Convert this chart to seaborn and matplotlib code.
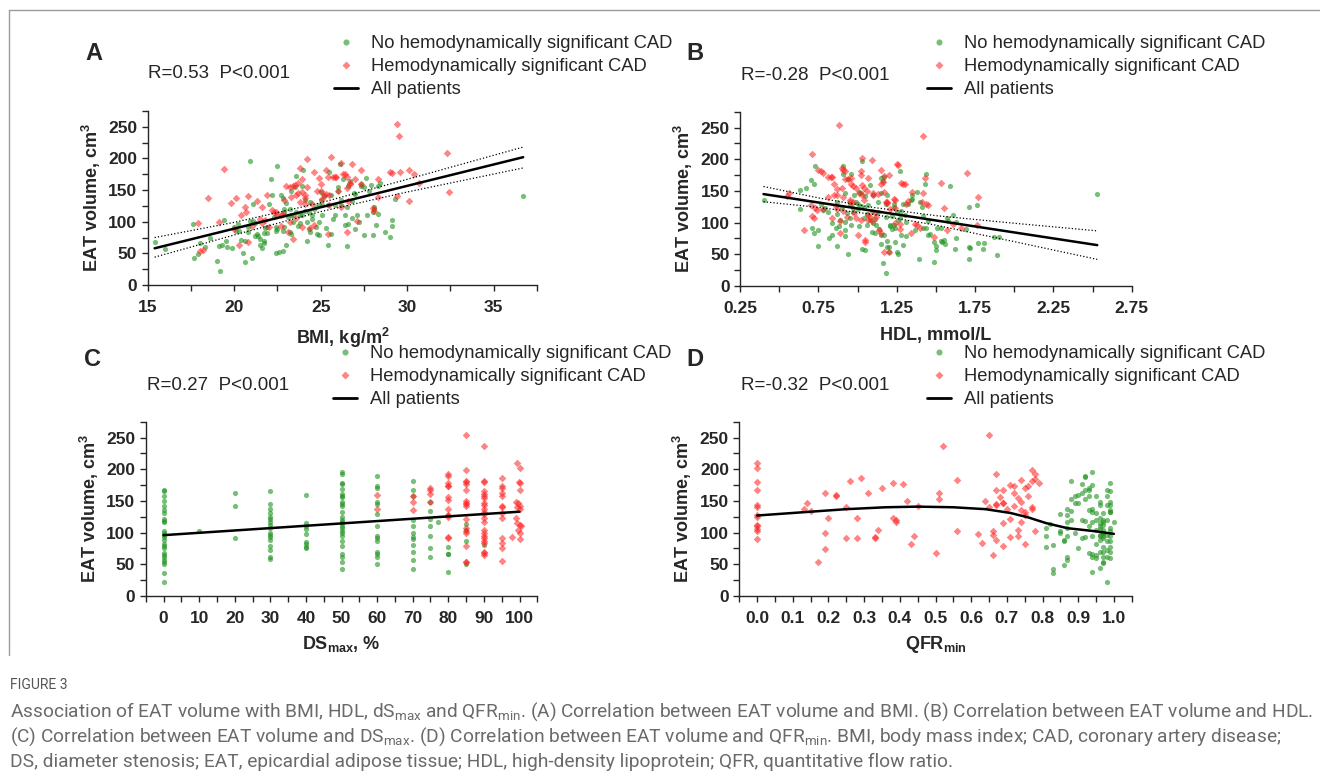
import numpy as np
import pandas as pd
import seaborn as sns
import matplotlib.pyplot as plt
from matplotlib.lines import Line2D
from matplotlib.ticker import MultipleLocator, FormatStrFormatter

sns.set_style('ticks')
plt.rcParams['font.family'] = ['Liberation Sans', 'DejaVu Sans']
plt.rcParams['font.weight'] = 'bold'
plt.rcParams['axes.labelweight'] = 'bold'
plt.rcParams['mathtext.default'] = 'regular'
plt.rcParams['axes.linewidth'] = 1.0

GREEN = '#1f931f'
RED = '#ff1f1f'

# ---- panel A : BMI (kg/m2) vs EAT volume (cm3)
a_no = [(15.4,68),(16.0,57),(17.6,96),(17.7,43),(17.9,49),(18.0,66),(18.3,60),(18.6,75),(19.0,38),(19.1,62),
        (19.2,22),(19.3,63),(19.4,102),(19.5,70),(19.6,60),(19.9,58),(20.0,91),(20.1,86),(20.2,96),(20.3,85),
        (20.4,71),(20.5,50),(20.6,37),(20.6,69),(20.8,84),(20.8,92),(20.9,196),(20.9,101),(21.0,42),(21.1,128),
        (21.1,101),(21.2,98),(21.2,78),(21.3,81),(21.4,78),(21.5,64),(21.5,73),(21.6,59),(21.7,70),(21.7,82),
        (21.7,67),(21.8,90),(21.9,82),(21.9,92),(22.0,128),(22.1,168),(22.2,143),(22.3,108),(22.4,85),(22.4,92),
        (22.4,50),(22.5,188),(22.5,88),(22.6,52),(22.7,142),(22.8,85),(22.8,53),(22.8,137),(22.9,92),(22.9,115),
        (22.9,120),(23.0,130),(23.0,63),(23.1,107),(23.2,84),(23.2,120),(23.3,148),(23.3,80),(23.3,110),(23.4,99),
        (23.4,110),(23.5,155),(23.6,172),(23.6,115),(23.7,93),(23.8,111),(23.8,98),(23.9,157),(23.9,111),(24.0,182),
        (24.1,117),(24.1,135),(24.2,70),(24.2,99),(24.3,116),(24.3,89),(24.4,83),(24.4,131),(24.5,104),(24.5,110),
        (24.6,120),(24.7,123),(24.7,92),(24.8,81),(24.9,99),(24.9,126),(24.9,79),(25.0,135),(25.0,147),(25.1,126),
        (25.1,110),(25.2,140),(25.3,90),(25.4,64),(25.4,127),(25.5,178),(25.6,81),(25.6,142),(25.7,104),(25.8,127),
        (25.8,110),(26.0,149),(26.0,155),(26.1,191),(26.2,126),(26.2,135),(26.3,168),(26.4,95),(26.4,110),(26.5,123),
        (26.5,61),(26.6,96),(26.6,157),(26.7,164),(26.8,106),(26.8,133),(26.9,145),(27.0,144),(27.0,89),(27.1,110),
        (27.2,99),(27.3,160),(27.3,157),(27.5,155),(27.5,79),(27.6,169),(27.7,110),(27.8,148),(27.9,158),(28.0,116),
        (28.0,79),(28.1,123),(28.1,120),(28.2,95),(28.3,113),(28.3,157),(28.4,161),(28.7,83),(29.1,102),(29.1,93),
        (29.0,76),(29.3,136),(36.7,141)]
a_sig = [(17.9,98),(18.0,53),(18.2,56),(18.5,138),(19.1,100),(19.4,184),(19.8,130),(20.0,89),(20.1,138),(20.3,64),
         (20.4,111),(20.6,123),(20.7,116),(20.8,68),(20.8,141),(21.0,94),(21.3,133),(21.5,105),(21.6,123),(21.6,98),
         (21.8,102),(21.9,143),(22.0,91),(22.2,118),(22.3,116),(22.4,115),(22.5,110),(22.7,93),(22.7,110),(22.8,113),
         (22.9,135),(23.0,157),(23.1,83),(23.2,100),(23.2,155),(23.3,139),(23.4,156),(23.4,73),(23.5,158),(23.6,106),
         (23.6,143),(23.7,146),(23.7,161),(23.8,131),(23.8,185),(23.9,92),(23.9,168),(23.9,147),(24.1,138),(24.1,128),
         (24.1,143),(24.2,155),(24.2,199),(24.4,90),(24.5,128),(24.6,95),(24.6,178),(24.8,148),(24.9,169),(25.0,148),
         (25.0,159),(25.1,136),(25.2,143),(25.3,182),(25.3,144),(25.4,81),(25.4,171),(25.5,126),(25.5,143),(25.6,202),
         (25.7,171),(25.8,171),(25.9,171),(26.0,148),(26.2,193),(26.2,124),(26.3,176),(26.4,175),(26.5,171),(26.5,154),
         (26.5,83),(26.6,132),(26.7,161),(26.7,160),(26.8,191),(27.0,168),(27.1,101),(27.3,182),(27.3,160),(28.0,121),
         (28.1,117),(28.3,167),(28.3,139),(29.0,178),(29.1,177),(29.4,140),(29.4,254),(29.5,235),(29.6,179),(30.1,133),
         (30.1,182),(30.4,175),(30.7,161),(32.3,209),(32.4,147)]
a_fit_x = [15.4, 36.7]
a_fit_y = [58, 202]
a_band_x = [15.4, 20, 25, 30, 36.7]
a_band_hi = [75, 99, 130, 167, 218]
a_band_lo = [44, 79, 116, 147, 185]

# ---- panel B : HDL (mmol/L) vs EAT volume
b_no = [(0.40,135),(0.63,151),(0.63,121),(0.67,154),(0.70,167),(0.71,91),(0.72,161),(0.72,84),(0.73,190),(0.75,88),
        (0.75,63),(0.77,130),(0.78,120),(0.79,123),(0.81,117),(0.82,75),(0.84,81),(0.84,99),(0.86,92),(0.87,133),
        (0.87,63),(0.87,114),(0.88,95),(0.89,104),(0.90,125),(0.91,189),(0.91,177),(0.92,89),(0.92,79),(0.92,146),
        (0.92,101),(0.93,115),(0.94,50),(0.94,169),(0.95,107),(0.95,128),(0.96,177),(0.96,96),(0.97,116),(0.97,123),
        (0.98,144),(0.99,133),(1.00,129),(1.00,122),(1.01,149),(1.01,94),(1.02,146),(1.02,127),(1.03,59),(1.03,198),
        (1.04,107),(1.04,123),(1.05,57),(1.05,142),(1.06,96),(1.06,113),(1.07,128),(1.08,160),(1.08,104),(1.09,85),
        (1.09,119),(1.10,100),(1.10,144),(1.11,105),(1.11,83),(1.12,96),(1.13,117),(1.13,132),(1.14,90),(1.15,80),
        (1.15,170),(1.15,146),(1.15,66),(1.16,165),(1.16,37),(1.17,172),(1.17,81),(1.18,109),(1.18,21),(1.18,129),
        (1.19,143),(1.19,71),(1.19,62),(1.20,54),(1.20,61),(1.21,96),(1.21,94),(1.22,90),(1.22,110),(1.23,124),
        (1.23,129),(1.23,96),(1.24,92),(1.24,70),(1.25,117),(1.25,54),(1.26,50),(1.26,104),(1.27,108),(1.27,181),
        (1.28,119),(1.28,81),(1.29,129),(1.29,64),(1.30,112),(1.31,101),(1.31,79),(1.32,129),(1.34,136),(1.35,137),
        (1.35,144),(1.37,88),(1.38,148),(1.39,42),(1.40,132),(1.41,125),(1.42,111),(1.42,91),(1.43,161),(1.44,177),
        (1.44,91),(1.45,81),(1.45,103),(1.46,82),(1.49,38),(1.49,69),(1.50,57),(1.50,63),(1.51,92),(1.53,91),
        (1.53,71),(1.54,70),(1.55,72),(1.56,66),(1.57,107),(1.58,103),(1.59,158),(1.61,112),(1.62,58),(1.63,101),
        (1.63,75),(1.69,90),(1.71,61),(1.71,42),(1.71,124),(1.72,60),(1.76,128),(1.77,68),(1.80,58),(1.81,68),
        (1.87,77),(1.89,49),(1.90,78),(2.53,145)]
b_sig = [(0.55,142),(0.56,146),(0.66,89),(0.70,128),(0.71,209),(0.71,111),(0.72,108),(0.73,123),(0.74,120),(0.75,183),
         (0.77,181),(0.78,179),(0.78,122),(0.81,140),(0.81,172),(0.83,172),(0.84,172),(0.84,107),(0.85,161),(0.85,144),
         (0.86,127),(0.87,153),(0.87,122),(0.87,144),(0.88,254),(0.89,103),(0.89,83),(0.90,186),(0.90,155),(0.91,183),
         (0.91,118),(0.91,141),(0.92,181),(0.92,169),(0.93,109),(0.94,169),(0.95,136),(0.95,133),(0.96,161),(0.96,170),
         (0.97,158),(0.97,133),(0.98,115),(0.99,107),(0.99,154),(1.00,81),(1.01,146),(1.02,182),(1.02,175),(1.02,104),
         (1.03,202),(1.03,144),(1.03,160),(1.04,155),(1.04,136),(1.05,69),(1.05,72),(1.06,150),(1.07,171),(1.07,112),
         (1.07,104),(1.08,109),(1.09,199),(1.09,102),(1.10,146),(1.10,144),(1.11,115),(1.12,109),(1.13,145),(1.14,89),
         (1.15,84),(1.15,161),(1.15,183),(1.16,164),(1.17,174),(1.17,149),(1.17,53),(1.18,132),(1.19,132),(1.19,131),
         (1.20,175),(1.20,53),(1.21,121),(1.23,138),(1.24,136),(1.24,123),(1.24,100),(1.25,193),(1.26,191),(1.27,90),
         (1.27,98),(1.28,162),(1.29,161),(1.30,161),(1.31,129),(1.32,134),(1.34,84),(1.35,148),(1.37,98),(1.38,97),
         (1.40,92),(1.41,132),(1.42,236),(1.42,147),(1.43,171),(1.44,129),(1.45,128),(1.49,78),(1.53,162),(1.55,123),
         (1.57,88),(1.61,98),(1.66,91),(1.70,178),(1.76,96),(1.77,140)]
b_fit_x = [0.40, 2.53]
b_fit_y = [145, 64.5]
b_band_x = [0.40, 0.75, 1.1, 1.5, 2.0, 2.53]
b_band_hi = [157, 139, 124, 111, 99, 87]
b_band_lo = [133, 124, 113, 96, 70, 42]
b_ticks = [0.25, 0.75, 1.25, 1.75, 2.25, 2.75]

# ---- panel C : DSmax (%) vs EAT volume
c_no_cols = {0: [168,165,158,150,142,136,131,121,119,117,103,100,96,93,88,82,79,75,68,65,61,57,53,50,37,22],
             10: [102],
             20: [163,142,91],
             30: [166,145,137,131,125,122,117,112,108,99,96,93,88,79,72,61,58],
             40: [159,115,110,105,98,85,82,78,75],
             50: [196,192,179,177,169,161,158,156,149,145,142,133,125,120,117,115,111,107,102,99,94,86,79,66,62,53,43],
             60: [190,174,170,148,145,129,110,94,91,87,70,67,62,50],
             70: [182,168,157,120,110,99,93,90,80,70,57,42],
             75: [149,134,121,110,95,76,62],
             77: [116],
             80: [128,78,67,66,38],
             85: [114,104,86,50],
             90: [80]}
c_sig_cols = {60: [160,137],
              70: [158,149,136],
              75: [170,167,161,149],
              80: [193,189,178,174,173,156,152,138,128,125,93,91],
              85: [254,199,182,180,177,167,150,147,145,142,121,107,102,99,79,54,53],
              90: [236,182,180,165,161,158,154,146,143,138,133,130,123,116,104,99,95,91,87,84,70,68,65],
              95: [186,173,170,163,158,142,140,131,123,91,83,75,56],
              98: [93]}
c_sig_100 = [(99.3,210),(100.0,202),(99.8,180),(100.2,178),(100.0,167),(98.9,149),(99.6,146),(100.2,142),(99.2,141),
             (100.1,137),(98.9,123),(99.3,115),(100.0,112),(100.4,110),(99.6,104),(100.1,99),(100.0,90)]
c_fit_x = [0, 100]
c_fit_y = [96, 133]

# ---- panel D : QFRmin vs EAT volume
d_sig_zero = [210,202,180,167,144,140,128,125,112,110,106,102,90]
d_sig = [(0.13,138),(0.14,147),(0.15,134),(0.17,54),(0.19,163),(0.19,100),(0.19,74),(0.20,123),(0.22,160),(0.22,157),
         (0.25,140),(0.25,92),(0.26,182),(0.28,123),(0.28,91),(0.29,186),(0.31,162),(0.33,91),(0.33,93),(0.34,104),
         (0.35,171),(0.38,123),(0.38,178),(0.39,120),(0.39,117),(0.41,177),(0.42,150),(0.43,82),(0.44,94),(0.45,142),
         (0.50,68),(0.51,163),(0.51,153),(0.52,236),(0.56,183),(0.56,103),(0.62,98),(0.63,83),(0.64,150),(0.65,254),
         (0.65,140),(0.66,103),(0.66,65),(0.66,96),(0.67,145),(0.67,88),(0.67,193),(0.67,168),(0.67,144),(0.68,156),
         (0.69,146),(0.69,115),(0.69,79),(0.69,167),(0.69,147),(0.70,138),(0.71,93),(0.71,175),(0.71,122),(0.72,162),
         (0.72,142),(0.72,173),(0.73,95),(0.73,154),(0.73,104),(0.74,136),(0.74,183),(0.74,149),(0.74,117),(0.75,82),
         (0.75,128),(0.75,170),(0.75,133),(0.76,173),(0.76,157),(0.77,137),(0.77,182),(0.77,199),(0.77,140),(0.78,193),
         (0.78,102),(0.78,185),(0.79,179)]
d_no = [(0.81,107),(0.81,95),(0.81,78),(0.82,114),(0.83,81),(0.83,42),(0.83,37),(0.85,129),(0.85,103),(0.85,99),
        (0.86,88),(0.86,49),(0.86,87),(0.87,138),(0.87,128),(0.87,117),(0.87,107),(0.87,95),(0.87,61),(0.87,57),
        (0.88,153),(0.88,181),(0.88,134),(0.88,120),(0.89,158),(0.89,99),(0.89,146),(0.90,160),(0.90,75),(0.90,147),
        (0.91,120),(0.91,162),(0.91,91),(0.91,176),(0.92,119),(0.92,190),(0.92,188),(0.92,167),(0.92,153),(0.92,93),
        (0.93,170),(0.93,136),(0.93,68),(0.93,167),(0.93,110),(0.93,158),(0.94,133),(0.94,175),(0.94,94),(0.94,196),
        (0.94,62),(0.94,38),(0.94,117),(0.94,137),(0.94,67),(0.95,60),(0.95,158),(0.95,120),(0.95,104),(0.95,82),
        (0.95,131),(0.95,65),(0.96,115),(0.96,94),(0.96,149),(0.96,70),(0.96,123),(0.96,105),(0.96,96),(0.96,144),
        (0.96,110),(0.96,88),(0.96,44),(0.97,117),(0.97,99),(0.97,54),(0.97,131),(0.97,112),(0.97,91),(0.97,78),
        (0.97,70),(0.97,62),(0.97,120),(0.97,104),(0.97,94),(0.97,52),(0.97,100),(0.98,86),(0.98,73),(0.98,167),
        (0.98,22),(0.98,158),(0.98,144),(0.98,120),(0.98,61),(0.98,96),(0.99,133),(0.99,108),(0.99,60),(0.99,179),
        (0.99,166),(0.99,149),(0.99,144),(0.99,132),(0.99,94),(0.99,86),(0.99,78),(0.99,70),(0.99,102),(0.99,136),
        (1.00,117)]
d_fit_x = [0, 0.125, 0.25, 0.36, 0.45, 0.55, 0.64, 0.71, 0.76, 0.81, 0.87, 0.95, 1.0]
d_fit_y = [127, 132, 137, 140, 141, 140, 137, 131, 124, 115, 107, 102, 98]

legend_labels = ['No hemodynamically significant CAD', 'Hemodynamically significant CAD', 'All patients']
stats = ['R=0.53  P<0.001', 'R=-0.28  P<0.001', 'R=0.27  P<0.001', 'R=-0.32  P<0.001']

c_no = [(x, v) for x, vals in c_no_cols.items() for v in vals]
c_sig = [(x, v) for x, vals in c_sig_cols.items() for v in vals] + c_sig_100
d_sig_all = [(0.0, v) for v in d_sig_zero] + d_sig

W, H = 1320, 780
fig = plt.figure(figsize=(W / 100, H / 100), dpi=100)


def fx(px):
    return px / W


def fy(py):
    return 1 - py / H


def draw(ax, no_pts, sig_pts, fit_x, fit_y, band=None):
    no = pd.DataFrame(no_pts, columns=['x', 'y'])
    sig = pd.DataFrame(sig_pts, columns=['x', 'y'])
    sns.scatterplot(data=no, x='x', y='y', ax=ax, color=GREEN, alpha=0.6, s=14, marker='o', linewidth=0)
    sns.scatterplot(data=sig, x='x', y='y', ax=ax, color=RED, alpha=0.55, s=15, marker='D', linewidth=0)
    if band is not None:
        sns.lineplot(x=band[0], y=band[1], ax=ax, color='black', lw=0.9, linestyle=':')
        sns.lineplot(x=band[0], y=band[2], ax=ax, color='black', lw=0.9, linestyle=':')
    sns.lineplot(x=fit_x, y=fit_y, ax=ax, color='black', lw=1.8)
    ax.set_ylim(0, 275)
    ax.yaxis.set_major_locator(MultipleLocator(50))
    ax.yaxis.set_minor_locator(MultipleLocator(25))
    ax.set_ylabel('EAT volume, cm$^3$', fontsize=13, fontweight='bold', labelpad=4)
    ax.tick_params(which='both', length=4.5, width=1, labelsize=12.5, direction='out')
    ax.tick_params(axis='x', which='both', pad=6)
    ax.tick_params(axis='y', which='both', pad=3)
    sns.despine(ax=ax)


axA = fig.add_axes([fx(147.7), fy(285), fx(537) - fx(147.7), (285 - 111) / H])
axB = fig.add_axes([fx(740), fy(286), fx(1131.7) - fx(740), (286 - 111.7) / H])
axC = fig.add_axes([fx(145.7), fy(596), fx(537.3) - fx(145.7), (596 - 421.7) / H])
axD = fig.add_axes([fx(739.3), fy(596), fx(1131.7) - fx(739.3), (596 - 421.7) / H])

draw(axA, a_no, a_sig, a_fit_x, a_fit_y, (a_band_x, a_band_hi, a_band_lo))
axA.set_xlim(15, 37.5)
axA.xaxis.set_major_locator(MultipleLocator(5))
axA.xaxis.set_minor_locator(MultipleLocator(2.5))
axA.set_xlabel('BMI, kg/m$^2$', fontsize=13, fontweight='bold', labelpad=8)

draw(axB, b_no, b_sig, b_fit_x, b_fit_y, (b_band_x, b_band_hi, b_band_lo))
axB.set_xlim(0.25, 2.75)
axB.set_xticks(b_ticks)
axB.xaxis.set_minor_locator(MultipleLocator(0.25))
axB.xaxis.set_major_formatter(FormatStrFormatter('%.2f'))
axB.set_xlabel('HDL, mmol/L', fontsize=13, fontweight='bold', labelpad=8)

draw(axC, c_no, c_sig, c_fit_x, c_fit_y)
axC.set_xlim(-5, 105)
axC.xaxis.set_major_locator(MultipleLocator(10))
axC.xaxis.set_minor_locator(MultipleLocator(5))
axC.set_xlabel('DS$_{max}$, %', fontsize=13, fontweight='bold', labelpad=6)

draw(axD, d_no, d_sig_all, d_fit_x, d_fit_y)
axD.set_xlim(-0.05, 1.05)
axD.xaxis.set_major_locator(MultipleLocator(0.1))
axD.xaxis.set_minor_locator(MultipleLocator(0.05))
axD.xaxis.set_major_formatter(FormatStrFormatter('%.1f'))
axD.set_xlabel('QFR$_{min}$', fontsize=13, fontweight='bold', labelpad=6)

# panel letters, statistics and legends
letters = [('A', 85, 53), ('B', 686, 53), ('C', 84, 360), ('D', 686, 360)]
for (txt, x, y) in letters:
    fig.text(fx(x), fy(y), txt, fontsize=17, fontweight='bold', va='center', ha='left')

stat_pos = [(148, 74), (741, 75), (147, 386), (741, 386)]
for s, (x, y) in zip(stats, stat_pos):
    fig.text(fx(x), fy(y), s, fontsize=13.5, fontweight='normal', va='center', ha='left')

handles = [Line2D([], [], ls='', marker='o', ms=4.4, color=GREEN, alpha=0.6, mec='none'),
           Line2D([], [], ls='', marker='D', ms=4.5, color=RED, alpha=0.55, mec='none'),
           Line2D([], [], color='black', lw=2)]
leg_pos = [(axA, 334, 35), (axB, 927, 35), (axC, 333, 345), (axD, 927, 345)]
for ax, x, y in leg_pos:
    ax.legend(handles, legend_labels, loc='upper left', bbox_to_anchor=(fx(x), fy(y)),
              bbox_transform=fig.transFigure, frameon=False, prop={'size': 13.2, 'weight': 'normal'},
              handlelength=1.3, handletextpad=0.7, labelspacing=0.33, borderpad=0, borderaxespad=0)

# frame around the figure image
fig.add_artist(Line2D([fx(9), 1], [fy(10), fy(10)], transform=fig.transFigure, color='#9a9a9a', lw=1))
fig.add_artist(Line2D([fx(9), fx(9)], [fy(10), fy(655)], transform=fig.transFigure, color='#9a9a9a', lw=1))

# caption
cap_font = ['Roboto', 'Open Sans', 'DejaVu Sans']
cap_color = '#6a6a6a'
fig.text(fx(10), fy(685), 'FIGURE 3', fontsize=10, color='#555555', fontweight='normal',
         family=cap_font, va='center')
cap_lines = ['Association of EAT volume with BMI, HDL, dS$_{max}$ and QFR$_{min}$. (A) Correlation between EAT volume and BMI. (B) Correlation between EAT volume and HDL.',
             '(C) Correlation between EAT volume and DS$_{max}$. (D) Correlation between EAT volume and QFR$_{min}$. BMI, body mass index; CAD, coronary artery disease;',
             'DS, diameter stenosis; EAT, epicardial adipose tissue; HDL, high-density lipoprotein; QFR, quantitative flow ratio.']
cap_y = [712, 737, 762]
texts = [fig.text(fx(10), fy(y), line, fontsize=13, color=cap_color, fontweight='normal',
                  family=cap_font, va='center') for line, y in zip(cap_lines, cap_y)]
renderer = fig.canvas.get_renderer()
width = texts[0].get_window_extent(renderer).width
size = 13 * 1298 / width
for t in texts:
    t.set_fontsize(size)

fig.savefig('out.png', dpi=100)
